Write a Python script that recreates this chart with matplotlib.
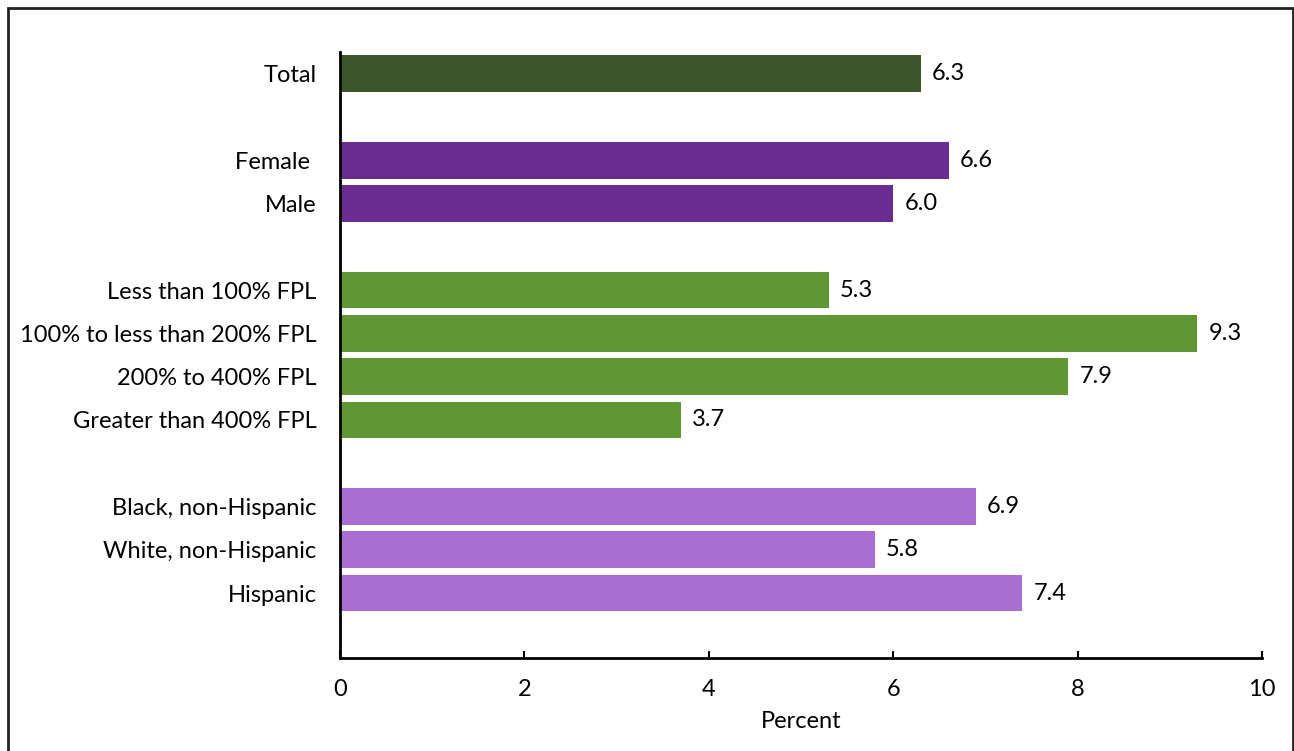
import matplotlib
matplotlib.use("Agg")
import matplotlib.pyplot as plt
from matplotlib.patches import Rectangle

plt.rcParams['font.family'] = ['Lato', 'DejaVu Sans']

# Row labels and values (blank rows separate the groups)
labels = ["Total", "", "Female ", "Male", "",
          "Less than 100% FPL", "100% to less than 200% FPL",
          "200% to 400% FPL", "Greater than 400% FPL", "",
          "Black, non-Hispanic", "White, non-Hispanic", "Hispanic"]
values = [6.3, None, 6.6, 6.0, None, 5.3, 9.3, 7.9, 3.7, None, 6.9, 5.8, 7.4]
colors = ["#3B5428", None, "#6A2C91", "#6A2C91", None,
          "#5E9734", "#5E9734", "#5E9734", "#5E9734", None,
          "#A96ED3", "#A96ED3", "#A96ED3"]
xticks = [0, 2, 4, 6, 8, 10]

FS = 17

fig = plt.figure(figsize=(12.94, 7.51), dpi=100)
ax = fig.add_axes([340 / 1294, 1 - 658 / 751, (1262 - 340) / 1294, (658 - 52) / 751])

for i, (v, c) in enumerate(zip(values, colors)):
    if v is None:
        continue
    ax.barh(i, v, height=0.85, color=c, zorder=2)
    ax.text(v + 0.12, i, f"{v:.1f}", va="center", ha="left", fontsize=FS)

ax.set_ylim(len(labels) + 0.5, -0.5)
ax.set_xlim(0, 10)
ax.set_yticks(range(len(labels)))
ax.set_yticklabels(labels, fontsize=FS)
ax.tick_params(axis="y", length=0, pad=17)
ax.set_xticks(xticks)
ax.set_xticklabels([str(t) for t in xticks], fontsize=FS)
ax.tick_params(axis="x", direction="in", length=5, width=1.5, pad=15)
ax.set_xlabel("Percent", fontsize=FS, labelpad=8)

for s in ["top", "right"]:
    ax.spines[s].set_visible(False)
for s in ["left", "bottom"]:
    ax.spines[s].set_linewidth(2)

# Frame around the figure
fig.patches.append(Rectangle((8 / 1294, -0.05), (1293 - 8) / 1294, 1.05 - 8 / 751,
                             transform=fig.transFigure, fill=False,
                             edgecolor="#222222", linewidth=2))

fig.savefig("out.png", dpi=100)
